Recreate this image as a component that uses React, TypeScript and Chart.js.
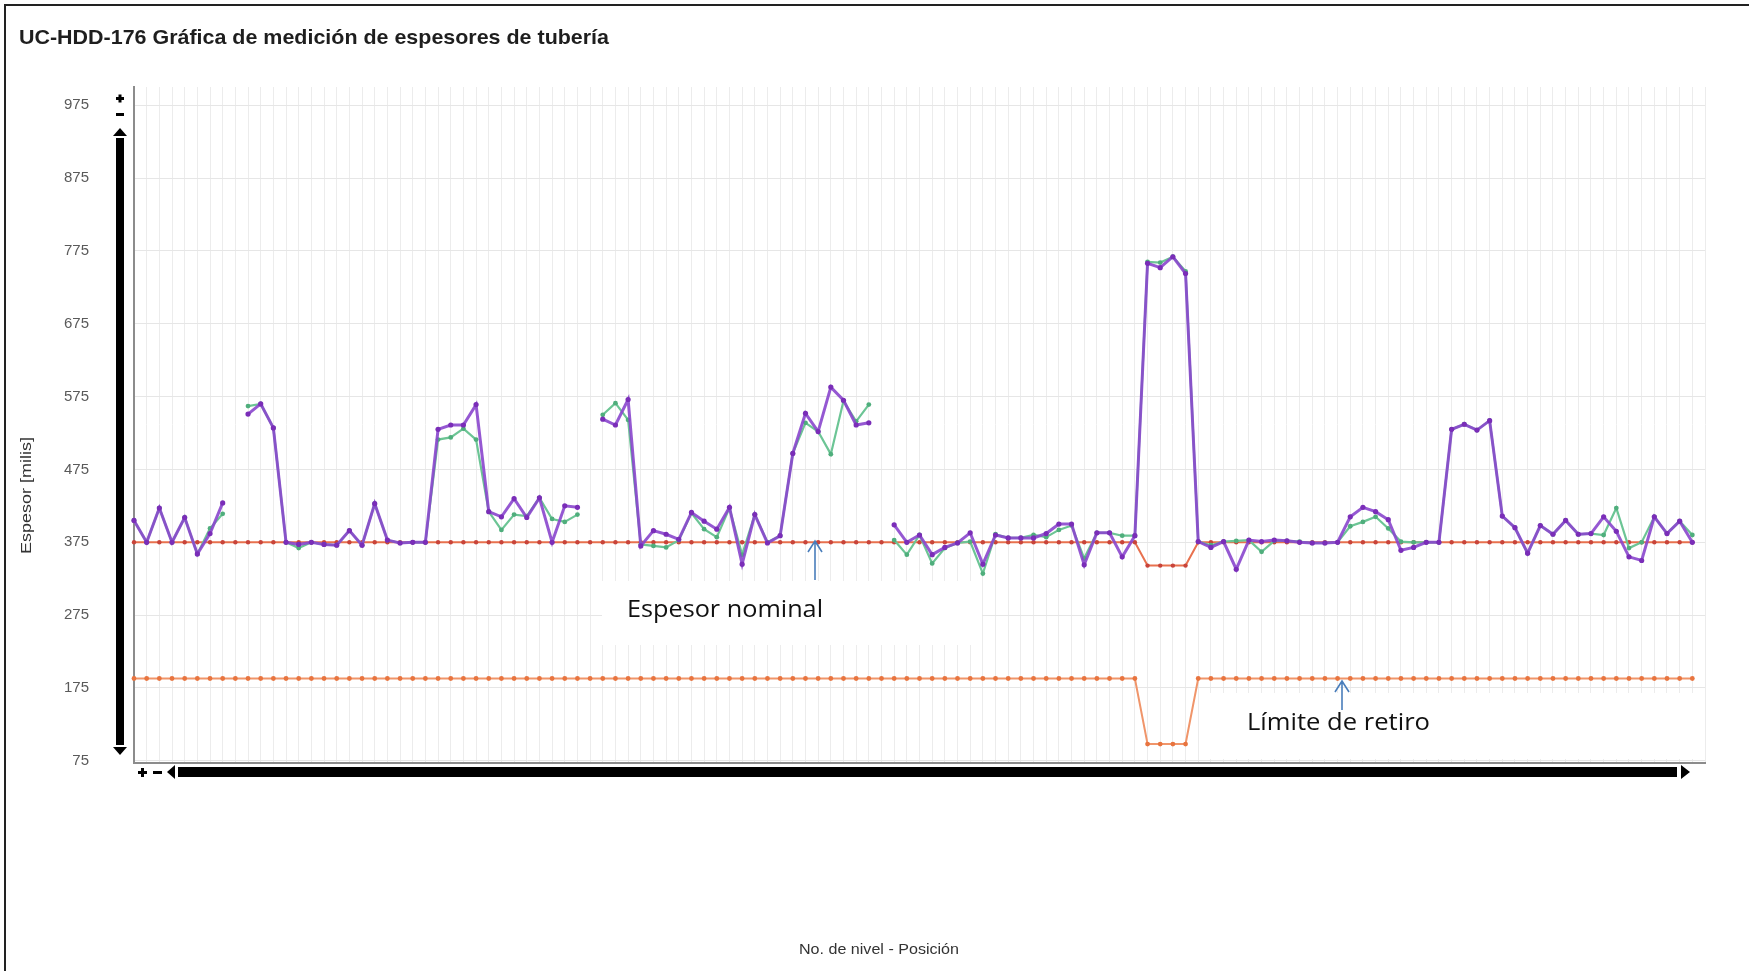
import React, { useEffect, useRef } from "react";
import { Chart, registerables } from "chart.js";

Chart.register(...registerables);

const TITLE = "UC-HDD-176 Gráfica de medición de espesores de tubería";
const Y_TITLE = "Espesor [milis]";
const X_TITLE = "No. de nivel - Posición";
const Y_TICKS = [75, 175, 275, 375, 475, 575, 675, 775, 875, 975];

const purpleSeries: (number | null)[] = [
  405, 375, 422, 375, 409, 359, 387, 429, null, 551,
  565, 532, 375, 372, 375, 372, 371, 391, 371, 428,
  378, 374, 375, 375, 530, 536, 536, 564, 417, 410,
  435, 409, 436, 375, 425, 423, null, 544, 536, 571,
  370, 391, 386, 379, 416, 404, 393, 423, 345, 413,
  374, 384, 497, 552, 527, 588, 570, 536, 539, null,
  399, 375, 385, 358, 368, 374, 388, 345, 385, 381,
  381, 381, 387, 400, 400, 344, 388, 388, 355, 384,
  758, 752, 767, 744, 376, 368, 376, 338, 378, 376,
  378, 377, 375, 374, 374, 375, 410, 423, 417, 406,
  364, 368, 375, 375, 530, 537, 529, 542, 411, 395,
  360, 398, 386, 405, 386, 387, 410, 390, 355, 350,
  410, 387, 404, 375, null,
];

const greenSeries: (number | null)[] = [
  405, 375, 422, 375, 409, 359, 394, 414, null, 562,
  565, 532, 375, 367, 375, 372, 371, 391, 371, 428,
  378, 374, 375, 375, 516, 519, 531, 516, 417, 392,
  413, 411, 436, 407, 403, 413, null, 550, 566, 543,
  372, 370, 368, 378, 415, 393, 382, 422, 358, 413,
  375, 384, 497, 539, 527, 496, 569, 541, 564, null,
  378, 358, 385, 346, 367, 374, 376, 332, 386, 381,
  381, 385, 382, 392, 398, 353, 388, 388, 384, 384,
  760, 759, 767, 747, 376, 371, 376, 377, 378, 362,
  377, 377, 376, 374, 374, 375, 397, 403, 410, 394,
  376, 375, 375, 375, 530, 537, 529, 542, 411, 395,
  360, 398, 386, 405, 386, 387, 385, 422, 367, 375,
  410, 387, 404, 385, null,
];

const nominalSeries: (number | null)[] = [
  ...Array(80).fill(375), 343, 343, 343, 343, ...Array(40).fill(375), null,
];

const limitSeries: (number | null)[] = [
  ...Array(80).fill(188), 98, 98, 98, 98, ...Array(40).fill(188), null,
];

const positions: string[] = purpleSeries.map((_, i) => String(i + 1));

function fitText(ctx: CanvasRenderingContext2D, text: string, x: number, y: number, w: number) {
  const m = ctx.measureText(text).width;
  ctx.save();
  ctx.translate(x, y);
  ctx.scale(w / m, 1);
  ctx.textAlign = "left";
  ctx.fillText(text, 0, 0);
  ctx.restore();
}

const boxesPlugin = {
  id: "boxes",
  beforeDatasetsDraw(chart: any) {
    const ctx = chart.ctx as CanvasRenderingContext2D;
    ctx.save();
    ctx.fillStyle = "#ffffff";
    ctx.fillRect(602, 581, 380, 64);
    ctx.fillRect(1210, 693, 492, 66);
    ctx.restore();
  },
};

function tri(ctx: CanvasRenderingContext2D, pts: number[][]) {
  ctx.beginPath();
  ctx.moveTo(pts[0][0], pts[0][1]);
  for (let i = 1; i < pts.length; i++) ctx.lineTo(pts[i][0], pts[i][1]);
  ctx.closePath();
  ctx.fill();
}

function arrow(ctx: CanvasRenderingContext2D, x: number, y1: number, y2: number) {
  ctx.beginPath();
  ctx.moveTo(x, y1);
  ctx.lineTo(x, y2);
  ctx.moveTo(x - 7, y2 + 11);
  ctx.lineTo(x, y2);
  ctx.lineTo(x + 7, y2 + 11);
  ctx.stroke();
}

const decorPlugin = {
  id: "decor",
  afterDraw(chart: any) {
    const ctx = chart.ctx as CanvasRenderingContext2D;
    ctx.save();
    // frame
    ctx.fillStyle = "#222";
    ctx.fillRect(4, 4, 1745, 2);
    ctx.fillRect(4, 4, 2, 967);

    // title
    ctx.fillStyle = "#1e1e1e";
    ctx.textBaseline = "alphabetic";
    ctx.font = "bold 21px 'Liberation Sans', Arial, sans-serif";
    fitText(ctx, TITLE, 19, 44, 590);

    // axis titles
    ctx.fillStyle = "#333";
    ctx.font = "15px 'Liberation Sans', Arial, sans-serif";
    ctx.textBaseline = "middle";
    fitText(ctx, X_TITLE, 799, 950, 160);
    ctx.save();
    ctx.translate(27, 496);
    ctx.rotate(-Math.PI / 2);
    fitText(ctx, Y_TITLE, -58, 0, 117);
    ctx.restore();

    // annotations
    ctx.fillStyle = "#111";
    ctx.font = "23px 'Open Sans', 'Noto Sans', sans-serif";
    fitText(ctx, "Espesor nominal", 627, 610, 196);
    fitText(ctx, "Límite de retiro", 1247, 723, 183);
    ctx.strokeStyle = "#4a7ebb";
    ctx.lineWidth = 1.6;
    arrow(ctx, 815, 580, 541);
    arrow(ctx, 1342, 710, 681);

    // vertical scroll bar decorations
    ctx.fillStyle = "#000";
    ctx.fillRect(116, 97, 8, 3);
    ctx.fillRect(118.5, 94.5, 3, 8);
    ctx.fillRect(116, 113, 8, 3);
    tri(ctx, [[113, 136], [127, 136], [120, 128]]);
    ctx.fillRect(116, 138, 8, 607);
    tri(ctx, [[113, 747], [127, 747], [120, 755]]);

    // horizontal scroll bar decorations
    ctx.fillRect(138, 771, 9, 3);
    ctx.fillRect(141, 768, 3, 9);
    ctx.fillRect(153, 771, 9, 3);
    tri(ctx, [[167, 772], [175, 765], [175, 779]]);
    ctx.fillRect(178, 767, 1499, 10);
    tri(ctx, [[1681, 765], [1681, 779], [1690, 772]]);
    ctx.restore();
  },
};

export default function App() {
  const ref = useRef<HTMLCanvasElement | null>(null);

  useEffect(() => {
    if (!ref.current) return;
    const chart = new Chart(ref.current, {
      type: "line",
      data: {
        labels: positions,
        datasets: [
          {
            label: "Medición 2",
            data: purpleSeries,
            borderColor: "rgba(138, 70, 205, 0.9)",
            backgroundColor: "#7a2db8",
            borderWidth: 3,
            pointRadius: 2.6,
            pointBorderWidth: 0,
            pointBackgroundColor: "#7a2db8",
            spanGaps: false,
            tension: 0,
          },
          {
            label: "Medición 1",
            data: greenSeries,
            borderColor: "#6cc595",
            backgroundColor: "#4fae7c",
            borderWidth: 2.2,
            pointRadius: 2.4,
            pointBorderWidth: 0,
            pointBackgroundColor: "#4fae7c",
            spanGaps: false,
            tension: 0,
          },
          {
            label: "Espesor nominal",
            data: nominalSeries,
            borderColor: "#e8714e",
            backgroundColor: "#c8443a",
            borderWidth: 2,
            pointRadius: 2.2,
            pointBorderWidth: 0,
            pointBackgroundColor: "#c8443a",
            tension: 0,
          },
          {
            label: "Límite de retiro",
            data: limitSeries,
            borderColor: "#f0956a",
            backgroundColor: "#e8743f",
            borderWidth: 2,
            pointRadius: 2.4,
            pointBorderWidth: 0,
            pointBackgroundColor: "#e8743f",
            tension: 0,
          },
        ],
      },
      options: {
        responsive: false,
        animation: false,
        devicePixelRatio: 1,
        layout: { padding: { left: 0, top: 87, right: 44, bottom: 0 } },
        plugins: {
          legend: { display: false },
          tooltip: { enabled: false },
          title: { display: false },
        },
        scales: {
          x: {
            type: "category",
            offset: false,
            grid: { color: "#ececec", lineWidth: 1, drawTicks: false },
            border: { color: "#8c8c8c", width: 2 },
            ticks: { display: false },
            afterFit: (scale: any) => {
              scale.height = 971 - 763;
            },
          },
          y: {
            min: 72,
            max: 1000,
            grid: { color: "#e6e6e6", lineWidth: 1, drawTicks: false },
            border: { color: "#8c8c8c", width: 2 },
            afterBuildTicks: (scale: any) => {
              scale.ticks = Y_TICKS.map((v) => ({ value: v }));
            },
            ticks: {
              color: "#5a5a5a",
              padding: 45,
              font: { family: "'Liberation Sans', Arial, sans-serif", size: 15 },
              callback: (v: any) => String(v),
            },
            afterFit: (scale: any) => {
              scale.width = 134;
            },
          },
        },
      },
      plugins: [boxesPlugin, decorPlugin],
    });
    return () => chart.destroy();
  }, []);

  return (
    <div style={{ position: "absolute", left: 0, top: 0, width: 1749, height: 971, background: "#fff" }}>
      <canvas ref={ref} width={1749} height={971} style={{ display: "block" }} />
    </div>
  );
}
